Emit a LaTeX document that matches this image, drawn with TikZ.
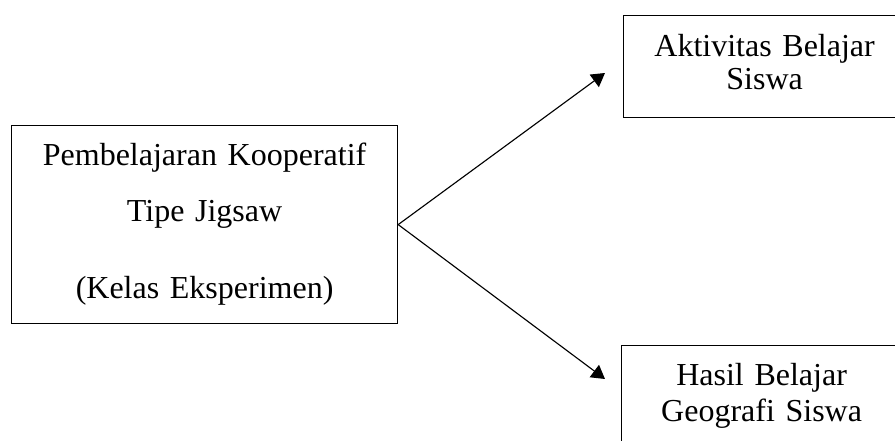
\documentclass[tikz,border=0pt]{standalone}
\usepackage{fontspec}
\setmainfont{Liberation Serif}
\usepackage{tikz}
\usetikzlibrary{arrows.meta, positioning}

\begin{document}
\begin{tikzpicture}[x=0.75pt, y=-0.75pt,
    box/.style={draw, line width=0.9pt, inner sep=0pt, anchor=north west, align=center},
    link/.style={line width=0.85pt, -{Triangle[length=10pt, width=11.5pt]}}]
  \useasboundingbox (0,0) rectangle (895,441);

  % Treatment box
  \node[box, text width=289.5pt, text height=30pt, text depth=118.5pt,
        font=\fontsize{24}{41.8}\selectfont] (jigsaw) at (11,125)
    {Pembelajaran Kooperatif\\ Tipe Jigsaw\\[16.4pt] (Kelas Eksperimen)};

  % Outcome boxes
  \node[box, text width=211.5pt, text height=30.5pt, text depth=46pt,
        font=\fontsize{24}{25}\selectfont] (aktivitas) at (623,15)
    {Aktivitas Belajar\\ Siswa};
  \node[box, text width=210pt, text height=30pt, text depth=46.5pt,
        font=\fontsize{24}{26.8}\selectfont] (hasil) at (621,345)
    {Hasil Belajar\\ Geografi Siswa};

  % Arrows
  \coordinate (tipA) at (605,73);
  \coordinate (tipB) at (605,379);
  \draw[link] (jigsaw.east) -- (tipA);
  \draw[link] (jigsaw.east) -- (tipB);
\end{tikzpicture}
\end{document}
